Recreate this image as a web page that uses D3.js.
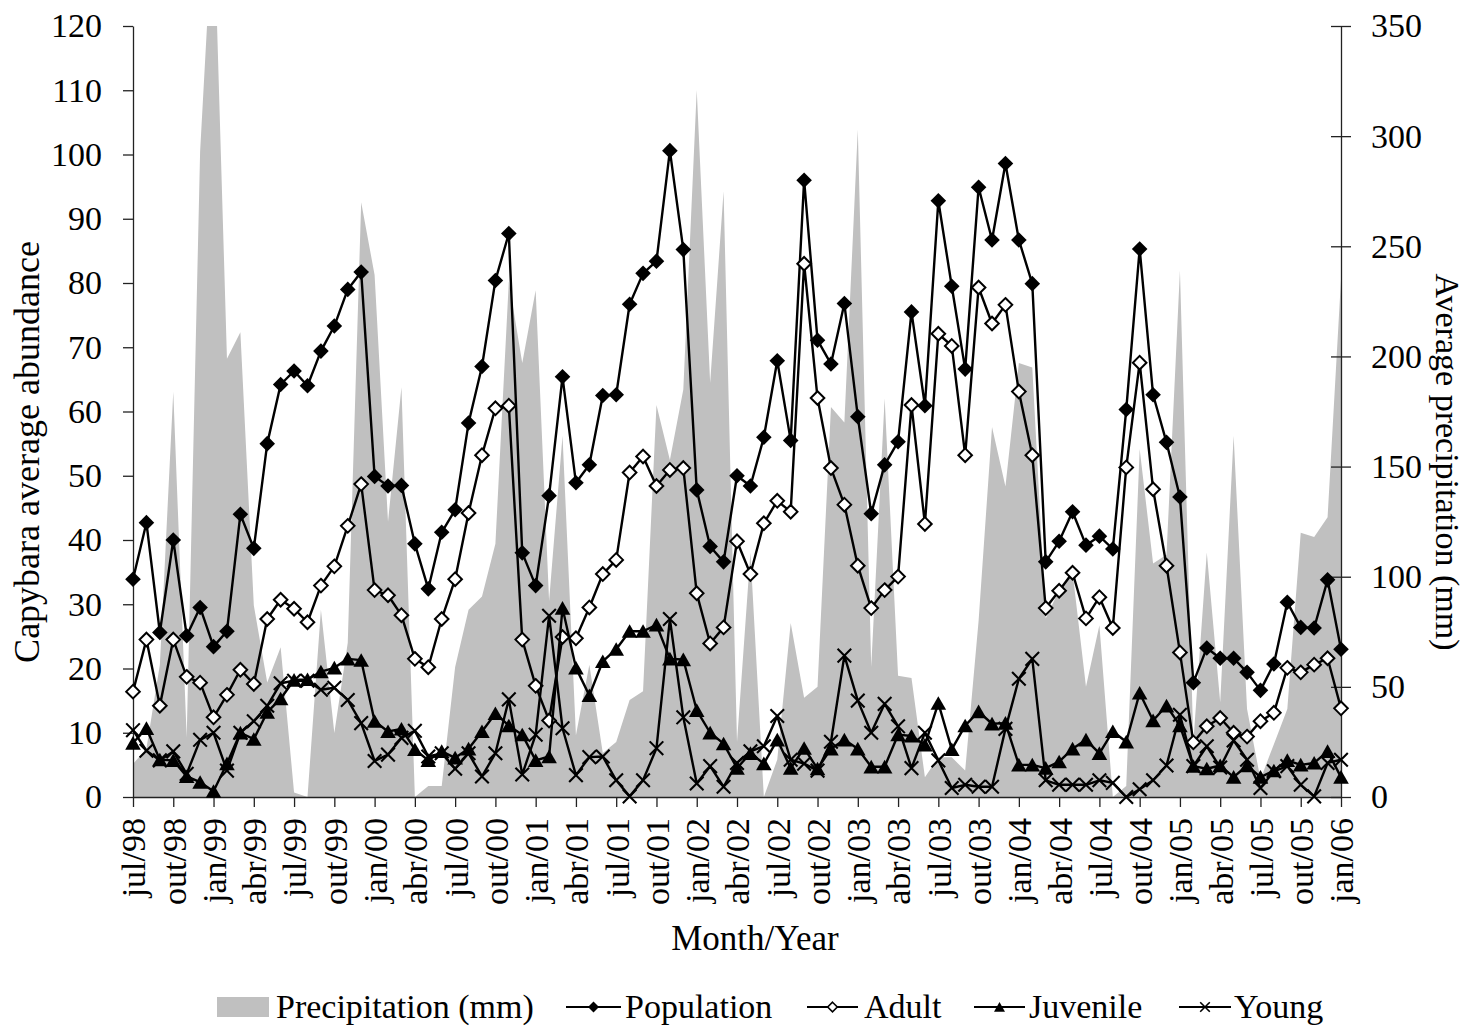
<!DOCTYPE html>
<meta charset="utf-8">

<!-- Load d3.js -->
<script src="https://d3js.org/d3.v7.min.js"></script>

<style>
  body { margin: 0; background: #fff; }
  text { font-family: "Liberation Serif", "Times New Roman", serif; fill: #000; }
</style>

<div id="my_dataviz"></div>

<script>

// labels under every third month, jul/98 .. jan/06
var tickLabels = ["jul/98","out/98","jan/99","abr/99","jul/99","out/99","jan/00","abr/00",
  "jul/00","out/00","jan/01","abr/01","jul/01","out/01","jan/02","abr/02","jul/02","out/02",
  "jan/03","abr/03","jul/03","out/03","jan/04","abr/04","jul/04","out/04","jan/05","abr/05",
  "jul/05","out/05","jan/06"];

// monthly values, one per month from jul/98 to jan/06
var precipitation = [15, 22, 60, 184, 27, 293, 404, 199, 211, 87,
  52, 68, 2, 0, 85, 29, 70, 270, 237, 125,
  186, 0, 5, 5, 59, 85, 91, 115, 234, 197,
  230, 89, 164, 28, 60, 20, 25, 44, 48, 178,
  153, 185, 321, 188, 275, 25, 111, 0, 17, 79,
  45, 50, 177, 170, 303, 59, 181, 55, 54, 9,
  18, 18, 12, 80, 168, 141, 197, 195, 81, 94,
  102, 50, 78, 0, 5, 158, 106, 110, 239, 25,
  111, 43, 164, 40, 8, 24, 40, 120, 118, 127,
  235];

var population = [33.9, 42.7, 25.6, 40.0, 25.1, 29.5, 23.4, 25.8, 44.0, 38.7,
  55.0, 64.2, 66.3, 64.0, 69.4, 73.3, 79.0, 81.7, 49.9, 48.4,
  48.5, 39.4, 32.4, 41.2, 44.7, 58.2, 67.0, 80.4, 87.7, 38.0,
  32.9, 46.9, 65.4, 48.9, 51.7, 62.5, 62.6, 76.7, 81.5, 83.4,
  100.6, 85.2, 47.8, 39.0, 36.6, 50.0, 48.4, 56.0, 67.9, 55.5,
  96.0, 71.1, 67.4, 76.8, 59.2, 44.1, 51.7, 55.3, 75.5, 60.9,
  92.8, 79.5, 66.6, 94.9, 86.7, 98.6, 86.7, 79.9, 36.6, 39.8,
  44.4, 39.2, 40.6, 38.6, 60.3, 85.3, 62.6, 55.2, 46.7, 17.8,
  23.2, 21.6, 21.6, 19.4, 16.6, 20.7, 30.3, 26.4, 26.3, 33.8,
  23.0];

var adult = [16.4, 24.5, 14.2, 24.5, 18.7, 17.8, 12.4, 15.9, 19.8, 17.6,
  27.7, 30.7, 29.3, 27.2, 32.9, 35.9, 42.2, 48.7, 32.2, 31.4,
  28.3, 21.5, 20.2, 27.7, 33.9, 44.2, 53.2, 60.5, 60.9, 24.5,
  17.3, 11.9, 24.9, 24.7, 29.5, 34.7, 36.9, 50.5, 53.0, 48.4,
  50.9, 51.2, 31.7, 23.9, 26.4, 39.8, 34.7, 42.6, 46.1, 44.4,
  83.0, 62.1, 51.2, 45.5, 36.0, 29.4, 32.2, 34.3, 61.0, 42.5,
  72.1, 70.2, 53.2, 79.3, 73.7, 76.6, 63.1, 53.2, 29.4, 32.1,
  34.9, 27.8, 31.1, 26.3, 51.3, 67.6, 47.9, 36.0, 22.5, 8.5,
  11.0, 12.3, 10.0, 9.4, 11.8, 13.1, 20.1, 19.4, 20.6, 21.6,
  13.8];

var juvenile = [8.4, 10.7, 5.8, 5.7, 3.2, 2.3, 0.9, 5.2, 10.0, 9.0,
  13.2, 15.3, 18.2, 18.3, 19.5, 20.1, 21.5, 21.3, 11.8, 10.2,
  10.6, 7.4, 5.7, 7.1, 6.1, 7.5, 10.2, 13.0, 11.1, 9.7,
  5.7, 6.3, 29.4, 20.1, 15.8, 21.1, 23.0, 25.8, 25.8, 26.8,
  21.5, 21.4, 13.5, 10.0, 8.3, 4.5, 6.8, 5.2, 8.9, 4.5,
  7.6, 4.4, 7.5, 8.9, 7.5, 4.7, 4.7, 9.7, 9.5, 8.1,
  14.6, 7.4, 11.1, 13.3, 11.4, 11.5, 5.0, 5.0, 4.5, 5.5,
  7.5, 8.9, 6.8, 10.2, 8.6, 16.2, 11.9, 14.2, 11.1, 4.8,
  4.4, 4.9, 3.1, 4.9, 3.1, 4.1, 5.7, 5.0, 5.3, 7.1,
  3.1];

var young = [10.4, 7.2, 5.7, 7.1, 3.6, 8.9, 10.0, 4.1, 10.0, 11.8,
  14.2, 17.7, 18.1, 18.1, 16.7, 17.0, 15.1, 11.5, 5.6, 6.6,
  9.2, 10.3, 6.3, 6.8, 4.4, 6.8, 3.2, 6.8, 15.2, 3.5,
  9.7, 28.2, 10.7, 3.4, 6.2, 6.3, 2.6, 0.1, 2.6, 7.6,
  27.7, 12.4, 2.1, 4.8, 1.6, 5.3, 7.1, 7.9, 12.6, 5.8,
  5.2, 4.1, 8.6, 22.0, 15.0, 10.0, 14.5, 11.0, 4.5, 10.0,
  5.7, 1.4, 1.9, 1.6, 1.6, 10.6, 18.4, 21.5, 2.6, 1.9,
  1.9, 1.9, 2.6, 2.2, 0.0, 1.2, 2.6, 4.9, 12.8, 4.8,
  7.9, 4.6, 8.8, 5.8, 1.4, 4.0, 4.8, 1.9, 0.1, 5.3,
  5.8];

// set the dimensions and margins of the graph
var margin = {top: 26, right: 125, bottom: 230, left: 133},
    width = 1466 - margin.left - margin.right,
    height = 1027 - margin.top - margin.bottom;

var fontSize = 34;

var root = d3.select("#my_dataviz")
  .append("svg")
    .attr("width", 1466)
    .attr("height", 1027);

var svg = root.append("g")
    .attr("transform", "translate(" + margin.left + "," + margin.top + ")");

// scales
var x = d3.scaleLinear().domain([0, population.length - 1]).range([0, width]);
var y = d3.scaleLinear().domain([0, 120]).range([height, 0]);
var y2 = d3.scaleLinear().domain([0, 350]).range([height, 0]);

svg.append("clipPath").attr("id", "plotclip")
  .append("rect").attr("width", width).attr("height", height);

// precipitation as a grey area on the right axis
svg.append("path")
  .datum(precipitation)
  .attr("clip-path", "url(#plotclip)")
  .attr("fill", "#c0c0c0")
  .attr("d", d3.area()
    .x(function(d, i) { return x(i); })
    .y0(height)
    .y1(function(d) { return y2(d); }));

// axes
function styleAxis(g) {
  g.attr("font-size", fontSize).attr("font-family", null);
  g.selectAll("path, line").attr("stroke", "#222").attr("stroke-width", 1.3);
}

svg.append("g")
  .call(d3.axisLeft(y).tickValues(d3.range(0, 121, 10)).tickSizeInner(10).tickSizeOuter(0).tickPadding(21))
  .call(styleAxis);

var right = svg.append("g")
  .attr("transform", "translate(" + width + ",0)")
  .call(d3.axisRight(y2).tickValues(d3.range(0, 351, 50)).tickSizeInner(10).tickSizeOuter(0).tickPadding(20))
  .call(styleAxis);
// right ticks cross the axis line
right.selectAll(".tick line").attr("x1", -10);

var bottom = svg.append("g")
  .attr("transform", "translate(0," + height + ")")
  .call(d3.axisBottom(x)
    .tickValues(d3.range(0, population.length, 3))
    .tickFormat(function(d, i) { return tickLabels[i]; })
    .tickSizeInner(10).tickSizeOuter(0))
  .call(styleAxis);
bottom.selectAll("text")
  .attr("transform", "rotate(-90)")
  .attr("x", -21)
  .attr("y", 0)
  .attr("dy", "0.35em")
  .style("text-anchor", "end");

// marker shapes
var diamond = function(r) { return "M0," + (-r) + "L" + r + ",0L0," + r + "L" + (-r) + ",0Z"; };
var triangle = function(r) { return "M0," + (-r * 0.9) + "L" + r + "," + (r * 0.85) + "L" + (-r) + "," + (r * 0.85) + "Z"; };
var cross = function(r) { return "M" + (-r) + "," + (-r) + "L" + r + "," + r + "M" + (-r) + "," + r + "L" + r + "," + (-r); };

var series = [
  {name: "Population", values: population, shape: diamond(7.8), fill: "#000", stroke: "none", sw: 0},
  {name: "Adult", values: adult, shape: diamond(6.8), fill: "#fff", stroke: "#000", sw: 2},
  {name: "Juvenile", values: juvenile, shape: triangle(7.8), fill: "#000", stroke: "none", sw: 0},
  {name: "Young", values: young, shape: cross(6.8), fill: "none", stroke: "#000", sw: 2.1}
];

var line = d3.line()
  .x(function(d, i) { return x(i); })
  .y(function(d) { return y(d); });

series.forEach(function(s) {
  svg.append("path")
    .datum(s.values)
    .attr("fill", "none")
    .attr("stroke", "#000")
    .attr("stroke-width", 2.4)
    .attr("stroke-linejoin", "round")
    .attr("d", line);

  svg.selectAll(null)
    .data(s.values)
    .enter()
    .append("path")
      .attr("transform", function(d, i) { return "translate(" + x(i) + "," + y(d) + ")"; })
      .attr("d", s.shape)
      .attr("fill", s.fill)
      .attr("stroke", s.stroke)
      .attr("stroke-width", s.sw);
});

// axis titles
root.append("text")
  .attr("transform", "translate(39,452) rotate(-90)")
  .attr("text-anchor", "middle")
  .attr("font-size", 36)
  .text("Capybara average abundance");

root.append("text")
  .attr("transform", "translate(1436,462) rotate(90)")
  .attr("text-anchor", "middle")
  .attr("font-size", 34)
  .text("Average precipitation (mm)");

root.append("text")
  .attr("x", 755)
  .attr("y", 950)
  .attr("text-anchor", "middle")
  .attr("font-size", 35)
  .text("Month/Year");

// legend
var legend = root.append("g").attr("transform", "translate(0,1007)");

legend.append("rect")
  .attr("x", 217).attr("y", -10).attr("width", 52).attr("height", 20)
  .attr("fill", "#c0c0c0");
legend.append("text")
  .attr("x", 276).attr("y", 11).attr("font-size", fontSize)
  .text("Precipitation (mm)");

var legendPos = [
  {x0: 566, x1: 621, tx: 625},
  {x0: 807, x1: 858, tx: 864},
  {x0: 974, x1: 1025, tx: 1029},
  {x0: 1179, x1: 1231, tx: 1234}
];
var legendShapes = [diamond(5.5), diamond(4.8), triangle(5.5), cross(4.8)];

series.forEach(function(s, k) {
  var p = legendPos[k];
  legend.append("line")
    .attr("x1", p.x0).attr("x2", p.x1)
    .attr("stroke", "#000").attr("stroke-width", 2.2);
  legend.append("path")
    .attr("transform", "translate(" + ((p.x0 + p.x1) / 2) + ",0)")
    .attr("d", legendShapes[k])
    .attr("fill", s.fill)
    .attr("stroke", s.stroke)
    .attr("stroke-width", s.sw ? 1.6 : 0);
  legend.append("text")
    .attr("x", p.tx).attr("y", 11).attr("font-size", fontSize)
    .text(s.name);
});

</script>
